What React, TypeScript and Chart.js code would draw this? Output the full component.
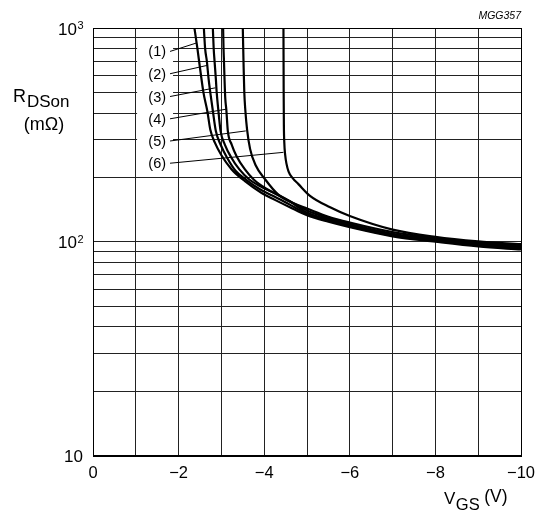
import React, { useEffect, useRef } from 'react';
import { Chart, registerables } from 'chart.js';

Chart.register(...registerables);

// ---- axis values ----
const xTickValues = [0, -1, -2, -3, -4, -5, -6, -7, -8, -9, -10];
const yGridValues = [10, 20, 30, 40, 50, 60, 70, 80, 90, 100, 200, 300, 400, 500, 600, 700, 800, 900, 1000];
const yLabelValues = [10, 100, 1000];
const yLabelExps = ['', '2', '3'];

// ---- curves: VGS (V) and RDSon (mΩ) ----
const curveNames = ['(1)', '(2)', '(3)', '(4)', '(5)', '(6)'];

const c1V = [-2.37, -2.44, -2.5, -2.58, -2.67, -2.74, -2.85, -3.0, -3.24, -3.55, -3.94, -4.25, -4.6, -5, -5.5, -6, -7, -8, -9, -10];
const c1R = [1000, 800, 650, 500, 410, 335, 290, 254, 218, 192, 169, 157, 145, 133, 124, 117, 106, 100, 95, 92];

const c2V = [-2.59, -2.62, -2.66, -2.7, -2.74, -2.8, -2.87, -2.98, -3.12, -3.33, -3.58, -3.9, -4.2, -4.55, -5, -5.5, -6, -7, -8, -9, -10];
const c2R = [1000, 800, 700, 580, 500, 410, 330, 285, 250, 215, 195, 176, 164, 151, 135, 125.5, 118, 107, 101, 96, 93];

const c3V = [-2.8, -2.82, -2.84, -2.87, -2.89, -2.93, -2.98, -3.08, -3.22, -3.42, -3.66, -3.95, -4.25, -4.6, -5, -5.5, -6, -7, -8, -9, -10];
const c3R = [1000, 800, 700, 580, 500, 410, 330, 285, 250, 218, 195, 180, 168, 154, 137, 127, 119.5, 108, 102, 97, 94];

const c4V = [-3.04, -3.05, -3.06, -3.075, -3.09, -3.115, -3.15, -3.24, -3.36, -3.55, -3.76, -4.05, -4.4, -5, -5.5, -6, -7, -8, -9, -10];
const c4R = [1000, 800, 700, 560, 470, 415, 330, 285, 250, 218, 195, 177, 163, 140, 129, 121, 109, 103, 98, 95];

const c5V = [-3.5, -3.51, -3.52, -3.535, -3.56, -3.6, -3.67, -3.8, -4.02, -4.33, -4.7, -5, -5.5, -6, -7, -8, -9, -10];
const c5R = [1000, 800, 650, 500, 410, 335, 272, 228, 196, 166, 151, 143, 131, 123, 111, 104, 99, 96];

const c6V = [-4.45, -4.452, -4.455, -4.46, -4.47, -4.49, -4.52, -4.57, -4.66, -4.8, -5.07, -5.54, -6, -7, -8, -9, -10];
const c6R = [1000, 750, 500, 350, 290, 255, 232, 213, 199, 186, 164, 145, 132, 114, 105.5, 100.5, 97.5];

// ---- curve labels (data coordinates) ----
const labelTextV = -1.5;
const labelLeaderStartV = -1.8;
const labelR = [777, 611, 478, 376, 296, 233];
const leaderEndV = [-2.41, -2.66, -2.86, -3.11, -3.57, -4.45];
const leaderEndR = [850, 668, 525, 417, 330, 262];
const labelBoxV = [-1.03, -1.87];
const labelBoxR = [872, 212];

const FONT = "'Liberation Sans', Arial, Helvetica, sans-serif";

const annotate = {
  id: 'annotate',
  beforeDatasetsDraw(chart: any) {
    const { ctx, scales } = chart;
    const x = scales.x;
    const y = scales.y;
    ctx.save();
    const x0 = x.getPixelForValue(labelBoxV[0]);
    const x1 = x.getPixelForValue(labelBoxV[1]);
    const y0 = y.getPixelForValue(labelBoxR[0]);
    const y1 = y.getPixelForValue(labelBoxR[1]);
    ctx.fillStyle = '#fff';
    ctx.fillRect(x0, y0, x1 - x0, y1 - y0);
    ctx.restore();
  },
  afterDatasetsDraw(chart: any) {
    const { ctx, scales, chartArea } = chart;
    const x = scales.x;
    const y = scales.y;
    ctx.save();
    // labels and leaders
    ctx.font = `14.5px ${FONT}`;
    ctx.fillStyle = '#000';
    ctx.textAlign = 'center';
    ctx.textBaseline = 'middle';
    ctx.strokeStyle = '#000';
    ctx.lineWidth = 1;
    curveNames.forEach((name, i) => {
      const ty = y.getPixelForValue(labelR[i]);
      ctx.fillText(name, x.getPixelForValue(labelTextV), ty + 1);
      ctx.beginPath();
      ctx.moveTo(x.getPixelForValue(labelLeaderStartV), ty);
      ctx.lineTo(x.getPixelForValue(leaderEndV[i]), y.getPixelForValue(leaderEndR[i]));
      ctx.stroke();
    });

    // frame
    ctx.strokeStyle = '#000';
    ctx.lineWidth = 1;
    ctx.strokeRect(Math.round(chartArea.left) + 0.5, Math.round(chartArea.top) + 0.5,
      Math.round(chartArea.right - chartArea.left), Math.round(chartArea.bottom - chartArea.top));

    // y tick labels with superscripts
    ctx.textAlign = 'left';
    ctx.textBaseline = 'alphabetic';
    yLabelValues.forEach((v, i) => {
      const py = y.getPixelForValue(v);
      ctx.font = `11px ${FONT}`;
      const ew = yLabelExps[i] ? ctx.measureText(yLabelExps[i]).width : 0;
      ctx.font = `17px ${FONT}`;
      const bw = ctx.measureText('10').width;
      const right = chartArea.left - 10;
      const bx = right - ew - bw;
      ctx.fillText('10', bx, py + 6.5);
      if (yLabelExps[i]) {
        ctx.font = `11px ${FONT}`;
        ctx.fillText(yLabelExps[i], bx + bw + 0.5, py + 1);
      }
    });

    // y axis title
    ctx.font = `18px ${FONT}`;
    ctx.fillText('R', 13, 102);
    const rw = ctx.measureText('R').width;
    ctx.font = `17px ${FONT}`;
    ctx.fillText('DSon', 13 + rw + 1, 107);
    ctx.font = `18px ${FONT}`;
    ctx.textAlign = 'center';
    ctx.fillText('(m\u03A9)', 44, 130);

    // x axis title
    ctx.textAlign = 'left';
    ctx.font = `17px ${FONT}`;
    ctx.fillText('V', 444, 504);
    const vw = ctx.measureText('V').width;
    ctx.font = `16.5px ${FONT}`;
    ctx.fillText('GS', 444 + vw + 0.5, 510);
    const gw = ctx.measureText('GS').width;
    ctx.font = `17.5px ${FONT}`;
    ctx.fillText('(V)', 444 + vw + gw + 5, 502);

    // figure code
    ctx.font = `italic 10.5px ${FONT}`;
    ctx.textAlign = 'right';
    ctx.fillText('MGG357', chartArea.right, 19);
    ctx.restore();
  },
};

export default function App() {
  const ref = useRef<HTMLCanvasElement>(null);
  useEffect(() => {
    const canvas = ref.current;
    if (!canvas) return;
    const series: [number[], number[]][] = [
      [c1V, c1R], [c2V, c2R], [c3V, c3R], [c4V, c4R], [c5V, c5R], [c6V, c6R],
    ];
    const chart = new Chart(canvas, {
      type: 'line',
      data: {
        datasets: series.map(([V, R], i) => ({
          label: curveNames[i],
          data: V.map((v, k) => ({ x: v, y: R[k] })),
          borderColor: '#000',
          borderWidth: 2.2,
          pointRadius: 0,
          fill: false,
          cubicInterpolationMode: 'monotone' as const,
        })),
      },
      options: {
        responsive: false,
        animation: false,
        devicePixelRatio: 1,
        layout: { padding: { left: 0, right: 24, top: 28, bottom: 0 } },
        plugins: { legend: { display: false }, tooltip: { enabled: false } },
        scales: {
          x: {
            type: 'linear',
            min: -10,
            max: 0,
            reverse: true,
            afterBuildTicks: (s: any) => { s.ticks = xTickValues.map((v) => ({ value: v })); },
            afterFit: (s: any) => { s.height = 59.5; },
            grid: { color: '#222', lineWidth: 1, drawTicks: false },
            border: { display: true, color: '#000', width: 1 },
            ticks: {
              autoSkip: false,
              maxRotation: 0,
              padding: 8,
              color: '#000',
              font: { family: FONT, size: 16.5 },
              callback: (val: any) => {
                const n = Math.round(Number(val));
                if (n % 2 !== 0) return '';
                return n === 0 ? '0' : '\u2212' + Math.abs(n);
              },
            },
          },
          y: {
            type: 'logarithmic',
            min: 10,
            max: 1000,
            afterBuildTicks: (s: any) => { s.ticks = yGridValues.map((v) => ({ value: v })); },
            afterFit: (s: any) => { s.width = 93; },
            grid: { color: '#222', lineWidth: 1, drawTicks: false },
            border: { display: true, color: '#000', width: 1 },
            ticks: { display: false },
          },
        },
      },
      plugins: [annotate],
    } as any);
    return () => chart.destroy();
  }, []);
  return (
    <div style={{ position: 'absolute', left: 0, top: 0, width: 545, height: 515, background: '#fff' }}>
      <canvas ref={ref} width={545} height={515} style={{ width: 545, height: 515, display: 'block' }} />
    </div>
  );
}
